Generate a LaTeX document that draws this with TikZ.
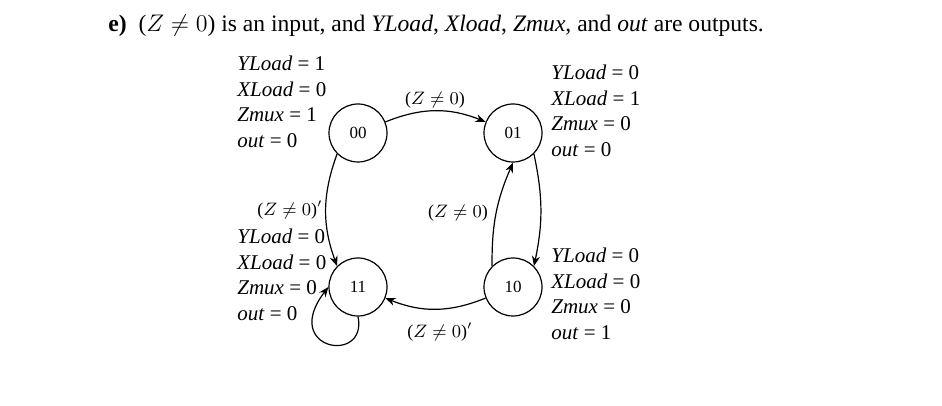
\documentclass[tikz,border=0pt]{standalone}
\usepackage{fontspec}
\setmainfont{Liberation Serif}
\usetikzlibrary{arrows.meta}
\begin{document}
\begin{tikzpicture}[x=0.5pt,y=-0.5pt,
  st/.style={circle,draw,line width=0.6pt,minimum size=29pt,inner sep=0pt,font=\fontsize{8.5}{9}\selectfont},
  lbl/.style={font=\fontsize{9}{10}\selectfont,inner sep=0pt},
  blk/.style={font=\fontsize{10.5}{12.7}\selectfont,align=left,anchor=north west,inner sep=0pt},
  tr/.style={-{Stealth[length=5pt,width=4pt]},line width=0.6pt}]
\useasboundingbox (0,0) rectangle (942,406);
\node[anchor=west,inner sep=0pt,font=\fontsize{11.8}{13}\selectfont] (title) at (108,26)
  {\textbf{e)}\enspace ($Z\neq 0$) is an input, and \textit{YLoad}, \textit{Xload}, \textit{Zmux}, and \textit{out} are outputs.};
\node[st] (s00) at (358,133) {00};
\node[st] (s01) at (513,133) {01};
\node[st] (s11) at (358,287) {11};
\node[st] (s10) at (513,287) {10};
\draw[tr] (s00) to[bend left=22] (s01);
\draw[tr] (s00.south west) to[bend right=20] (s11.north west);
\draw[tr] (s10) to[bend left=22] (s11);
\draw[tr] (s10.north west) to[bend left=12] (s01.south);
\draw[tr] (s01.south east) to[bend left=12] (s10.north east);
\draw[tr] (s11.south) .. controls (368,365) and (280,350) .. (s11.west);
\node[lbl] (l1) at (435,100) {($Z\neq 0$)};
\node[lbl] (l2) at (290,210) {($Z\neq 0$)$'$};
\node[lbl] (l3) at (458,213) {($Z\neq 0$)};
\node[lbl] (l4) at (440,332) {($Z\neq 0$)$'$};
\node[blk] (b00) at (237,56) {\textit{YLoad} = 1\\\textit{XLoad} = 0\\\textit{Zmux} = 1\\\textit{out} = 0};
\node[blk] (b01) at (551,65) {\textit{YLoad} = 0\\\textit{XLoad} = 1\\\textit{Zmux} = 0\\\textit{out} = 0};
\node[blk] (b11) at (237,229) {\textit{YLoad} = 0\\\textit{XLoad} = 0\\\textit{Zmux} = 0\\\textit{out} = 0};
\node[blk] (b10) at (551,248) {\textit{YLoad} = 0\\\textit{XLoad} = 0\\\textit{Zmux} = 0\\\textit{out} = 1};
\end{tikzpicture}
\end{document}
